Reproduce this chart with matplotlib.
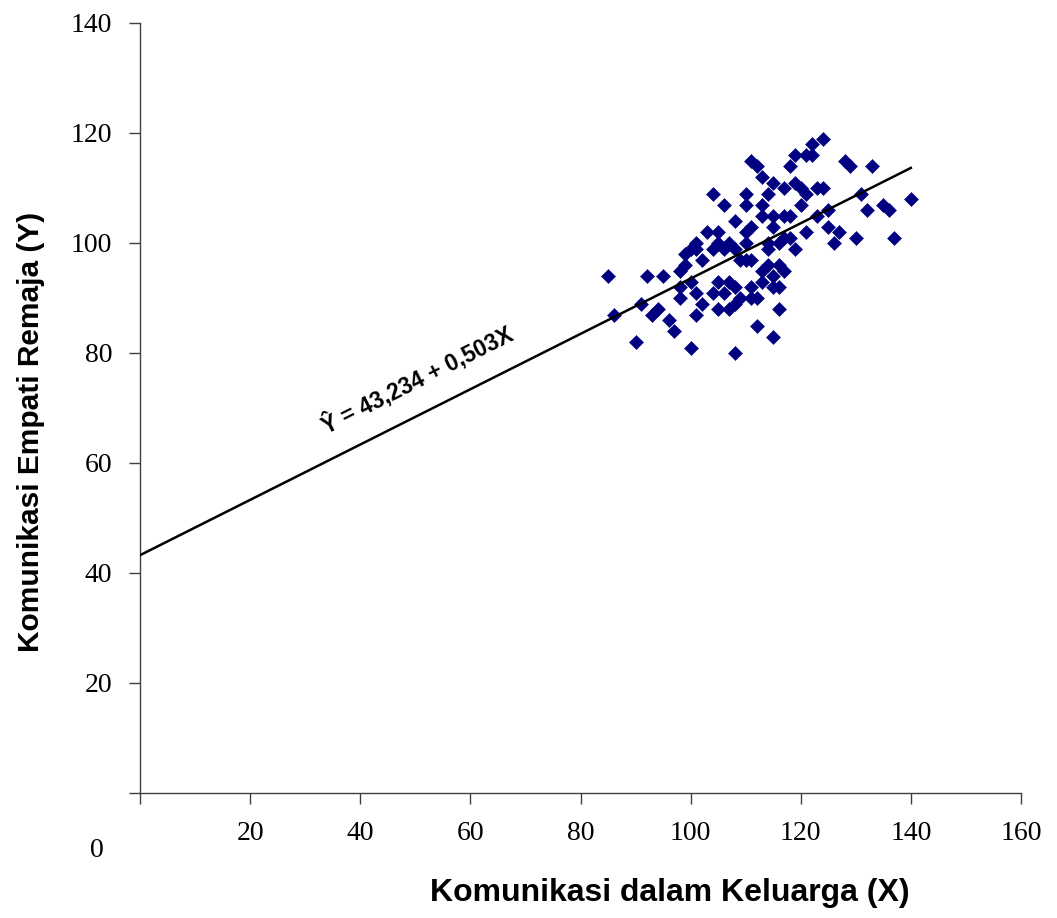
import matplotlib.pyplot as plt
from matplotlib import font_manager

# ── Data ──────────────────────────────────────────────────────────────────────
komunikasi_keluarga = [
    85, 86, 90, 91, 92, 93, 94, 95, 96, 97, 100, 108, 101,
    99, 101, 98, 99, 102, 100, 98, 98, 101, 102, 105, 107, 104, 106, 108,
    105, 107, 108, 109, 111, 104, 106, 108, 110, 109, 111, 112, 111,
    113, 114, 116, 117, 115, 113, 116, 115, 112, 116, 115, 110, 114, 116,
    124, 122, 119, 121, 122, 118, 111, 112, 128, 129, 133, 113, 115, 117,
    119, 120, 121, 123, 124, 110, 114, 131, 140, 110, 113, 120, 123, 125,
    132, 135, 136, 113, 115, 117, 118, 115, 111, 125, 127, 121, 130, 137,
    117, 118, 126, 110, 114, 119, 104, 106, 103, 105, 108, 100, 101, 105,
    107,
]
empati_remaja = [
    94, 87, 82, 89, 94, 87, 88, 94, 86, 84, 81, 80, 87,
    98, 99, 95, 96, 97, 93, 90, 92, 91, 89, 93, 93, 91, 91, 92,
    88, 88, 89, 90, 92, 99, 99, 99, 100, 97, 97, 85, 90,
    95, 96, 96, 95, 94, 93, 92, 92, 90, 88, 83, 97, 99, 100,
    119, 118, 116, 116, 116, 114, 115, 114, 115, 114, 114, 112, 111, 110,
    111, 110, 109, 110, 110, 109, 109, 109, 108, 107, 107, 107, 105, 106,
    106, 107, 106, 105, 105, 105, 105, 103, 103, 103, 102, 102, 101, 101,
    101, 101, 100, 102, 100, 99, 109, 107, 102, 102, 104, 99, 100, 100,
    100,
]

intercept = 43.234
slope = 0.503
line_x = [0, 140]

x_ticks = [0, 20, 40, 60, 80, 100, 120, 140, 160]
x_tick_labels = ["", "20", "40", "60", "80", "100", "120", "140", "160"]
y_ticks = [0, 20, 40, 60, 80, 100, 120, 140]
y_tick_labels = ["", "20", "40", "60", "80", "100", "120", "140"]


def main():
    serif = "Liberation Serif"
    sans = "Liberation Sans"
    names = {f.name for f in font_manager.fontManager.ttflist}
    narrow = "Liberation Sans Narrow" if "Liberation Sans Narrow" in names else sans

    # ── Figure ────────────────────────────────────────────────────────────────
    fig = plt.figure(figsize=(10.57, 9.18), dpi=100)
    ax = fig.add_axes([140 / 1057, 1 - 793 / 918, 881 / 1057, 770 / 918])

    # ── Scatter + regression line ─────────────────────────────────────────────
    ax.plot(komunikasi_keluarga, empati_remaja, linestyle="none", marker="D",
            markersize=7, color="#000080", markeredgewidth=0.4,
            markeredgecolor="#000080", zorder=3)
    line_y = [intercept + slope * x for x in line_x]
    ax.plot(line_x, line_y, color="black", linewidth=1.8, zorder=4)

    ax.text(50.4, 75.1, "Ŷ = 43,234 + 0,503X", rotation=26.7,
            rotation_mode="anchor", ha="center", va="center",
            fontsize=16.5, fontweight="bold", family=[narrow, "DejaVu Sans"])

    # ── Axes styling ──────────────────────────────────────────────────────────
    ax.set_xlim(0, 160)
    ax.set_ylim(0, 140)
    ax.set_xticks(x_ticks)
    ax.set_xticklabels(x_tick_labels)
    ax.set_yticks(y_ticks)
    ax.set_yticklabels(y_tick_labels)
    for lab in ax.get_xticklabels() + ax.get_yticklabels():
        lab.set_fontfamily(serif)
        lab.set_fontsize(20)
    ax.tick_params(direction="out", length=8, width=1.0, color="#404040", pad=12)

    for side in ("top", "right"):
        ax.spines[side].set_visible(False)
    for side in ("left", "bottom"):
        ax.spines[side].set_color("#404040")
        ax.spines[side].set_linewidth(1.0)

    # stray origin label
    ax.text(-7.8, -10.5, "0", ha="center", va="center", fontsize=20,
            family=serif, clip_on=False)

    # ── Axis titles ───────────────────────────────────────────────────────────
    fig.text(670 / 1057, 1 - 893 / 918, "Komunikasi dalam Keluarga (X)",
             ha="center", va="center", fontsize=23, fontweight="bold", family=sans)
    fig.text(31 / 1057, 1 - 432 / 918, "Komunikasi Empati Remaja (Y)",
             ha="center", va="center", rotation=90, fontsize=21.5,
             fontweight="bold", family=sans)

    fig.savefig("out.png", dpi=100)


if __name__ == "__main__":
    main()
